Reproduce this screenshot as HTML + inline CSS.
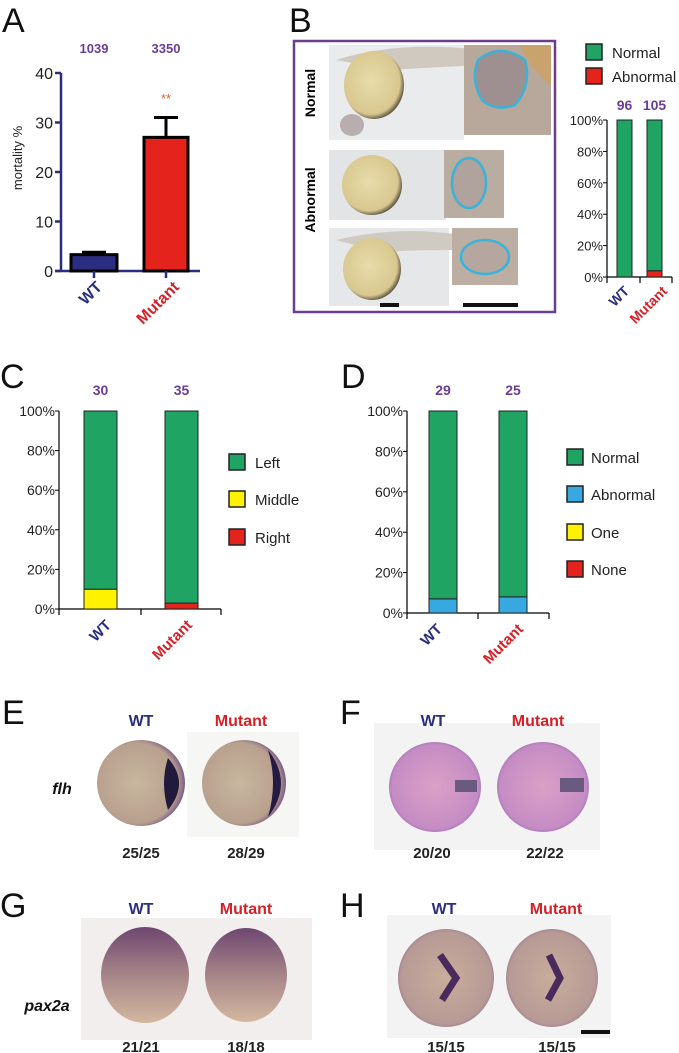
<!DOCTYPE html>
<html><head><meta charset="utf-8"><style>
html,body{margin:0;padding:0;background:#fff;}
svg{display:block;font-family:"Liberation Sans",sans-serif;}
.bold{font-weight:bold}
</style></head><body>
<svg id="fig" width="679" height="1053" viewBox="0 0 679 1053" xmlns="http://www.w3.org/2000/svg">
<defs>
<radialGradient id="yolk" cx="45%" cy="45%" r="60%"><stop offset="0" stop-color="#e8dcaa"/><stop offset="0.8" stop-color="#d8c78f"/><stop offset="1" stop-color="#2a2420"/></radialGradient>
<radialGradient id="eE" cx="45%" cy="50%" r="55%"><stop offset="0" stop-color="#c8b79e"/><stop offset="0.85" stop-color="#b8a08e"/><stop offset="1" stop-color="#7c5a86"/></radialGradient>
<radialGradient id="eF" cx="50%" cy="50%" r="55%"><stop offset="0" stop-color="#dba0c6"/><stop offset="0.85" stop-color="#c58cc4"/><stop offset="1" stop-color="#8a62b0"/></radialGradient>
<linearGradient id="eG" x1="0" y1="0" x2="0" y2="1"><stop offset="0" stop-color="#6e4670"/><stop offset="0.45" stop-color="#a17f86"/><stop offset="1" stop-color="#d3b8a0"/></linearGradient>
<radialGradient id="eH" cx="50%" cy="50%" r="55%"><stop offset="0" stop-color="#c8ad9c"/><stop offset="0.85" stop-color="#b79a95"/><stop offset="1" stop-color="#8b6e8c"/></radialGradient>
</defs>

<g font-size="34" fill="#111">
<text x="2" y="32">A</text>
<text x="289" y="32">B</text>
<text x="0" y="388">C</text>
<text x="341" y="388">D</text>
<text x="2" y="724">E</text>
<text x="340" y="724">F</text>
<text x="0" y="917">G</text>
<text x="340" y="917">H</text>
</g>

<g>
<rect x="294" y="41" width="261" height="271" fill="#fff" stroke="#6a3d8f" stroke-width="2.5"/>
<rect x="329" y="45" width="135" height="95" fill="#e9ebec"/>
<path d="M336,60 Q400,40 480,50 L482,65 Q420,68 390,70 Z" fill="#cfc9c0"/>
<ellipse cx="374" cy="85" rx="30" ry="34" fill="url(#yolk)"/>
<ellipse cx="352" cy="125" rx="12" ry="11" fill="#b8aeb0"/>
<rect x="464" y="45" width="87" height="90" fill="#b8a89c"/>
<path d="M520,45 L551,45 L551,85 Q530,70 520,45Z" fill="#c9a36e"/>
<path d="M478,60 Q500,42 525,60 Q532,85 515,105 Q495,112 482,100 Q470,80 478,60Z" fill="#9e8f90" stroke="#3ab3d8" stroke-width="2.5"/>
<rect x="329" y="150" width="117" height="70" fill="#e2e4e5"/>
<ellipse cx="372" cy="185" rx="30" ry="30" fill="url(#yolk)"/>
<rect x="444" y="150" width="60" height="68" fill="#b9aca0"/>
<ellipse cx="469" cy="183" rx="17" ry="25" fill="#b0a29c" stroke="#3ab3d8" stroke-width="2.5"/>
<rect x="329" y="228" width="120" height="78" fill="#e6e7e8"/>
<path d="M336,240 Q400,225 460,235 L460,250 Q410,250 380,252 Z" fill="#d0cbc2"/>
<ellipse cx="372" cy="269" rx="29" ry="31" fill="url(#yolk)"/>
<rect x="452" y="228" width="66" height="57" fill="#bcaea2"/>
<ellipse cx="485" cy="257" rx="24" ry="17" fill="#b5a69f" stroke="#3ab3d8" stroke-width="2.5"/>
<rect x="380" y="303" width="19" height="4" fill="#111"/>
<rect x="463" y="303" width="55" height="4" fill="#111"/>
<text transform="translate(315,93) rotate(-90)" text-anchor="middle" font-size="14" class="bold">Normal</text>
<text transform="translate(315,200) rotate(-90)" text-anchor="middle" font-size="14" class="bold">Abnormal</text>
</g>

<g>
<rect x="187" y="732" width="112" height="105" fill="#f6f6f4"/>
<ellipse cx="141" cy="783" rx="44" ry="43" fill="url(#eE)"/>
<path d="M168,758 Q190,783 168,810 Q160,783 168,758Z" fill="#221a3a"/>
<ellipse cx="244" cy="783" rx="42" ry="43" fill="url(#eE)"/>
<path d="M268,750 Q294,783 268,817 Q278,783 268,750Z" fill="#241a44"/>
<rect x="374" y="723" width="226" height="127" fill="#f3f3f3"/>
<ellipse cx="435" cy="787" rx="46" ry="45" fill="url(#eF)"/>
<rect x="455" y="780" width="22" height="12" fill="#6a5a80"/>
<ellipse cx="543" cy="787" rx="46" ry="45" fill="url(#eF)"/>
<rect x="560" y="778" width="24" height="14" fill="#6a5a80"/>
<rect x="81" y="918" width="231" height="122" fill="#f3eeee"/>
<ellipse cx="145" cy="975" rx="44" ry="48" fill="url(#eG)"/>
<ellipse cx="246" cy="975" rx="41" ry="47" fill="url(#eG)"/>
<rect x="387" y="915" width="224" height="123" fill="#f4f3f3"/>
<ellipse cx="446" cy="978" rx="48" ry="49" fill="url(#eH)"/>
<path d="M440,955 L456,978 L442,1000" fill="none" stroke="#4a2a5a" stroke-width="7"/>
<ellipse cx="552" cy="978" rx="46" ry="49" fill="url(#eH)"/>
<path d="M549,955 L560,978 L548,1000" fill="none" stroke="#4a2a5a" stroke-width="7"/>
<rect x="581" y="1030" width="29" height="4" fill="#111"/>
</g>
<g font-size="16" class="bold" text-anchor="middle">
<text x="141" y="726" fill="#2b2e80">WT</text>
<text x="241" y="726" fill="#d71f26">Mutant</text>
<text x="433" y="726" fill="#2b2e80">WT</text>
<text x="538" y="726" fill="#d71f26">Mutant</text>
<text x="141" y="914" fill="#2b2e80">WT</text>
<text x="246" y="914" fill="#d71f26">Mutant</text>
<text x="444" y="914" fill="#2b2e80">WT</text>
<text x="556" y="914" fill="#d71f26">Mutant</text>
<g fill="#222" font-size="15">
<text x="141" y="858">25/25</text>
<text x="246" y="858">28/29</text>
<text x="432" y="858">20/20</text>
<text x="545" y="858">22/22</text>
<text x="141" y="1052">21/21</text>
<text x="246" y="1052">18/18</text>
<text x="446" y="1052">15/15</text>
<text x="557" y="1052">15/15</text>
</g>
<text x="62" y="794" font-style="italic" fill="#111">flh</text>
<text x="47" y="1011" font-style="italic" fill="#111">pax2a</text>
</g>
</svg>
<script>
// ---- data ----
const groups = ["WT", "Mutant"];
const aCounts = ["1039", "3350"];
const aMortality = [3.3, 27];
const aError = [0.5, 4];
const aTicks = [0, 10, 20, 30, 40];
const bCounts = ["96", "105"];
const bNormal = [100, 96];
const bAbnormal = [0, 4];
const cCounts = ["30", "35"];
const cLeft = [90, 97];
const cMiddle = [10, 0];
const cRight = [0, 3];
const dCounts = ["29", "25"];
const dNormal = [93, 92];
const dAbnormal = [7, 8];
const dOne = [0, 0];
const dNone = [0, 0];
const pctTicks = [0, 20, 40, 60, 80, 100];

const NS = "http://www.w3.org/2000/svg";
const svg = document.getElementById("fig");
const GREEN = "#1fa463", RED = "#e3231c", YEL = "#fff200", BLUE = "#38a9e0", NAVY = "#2b2e80", PURP = "#6a3d9a";
function mk(tag, attrs, parent, txt) {
  const e = document.createElementNS(NS, tag);
  for (const k in attrs) e.setAttribute(k, attrs[k]);
  if (txt !== undefined) e.textContent = txt;
  (parent || svg).appendChild(e);
  return e;
}
function rotLabels(xs, y, size, g) {
  groups.forEach((n, i) => {
    const t = mk("text", {transform: `translate(${xs[i]},${y}) rotate(-45)`, "text-anchor": "end", "font-size": size, "font-weight": "bold", fill: i ? "#d71f26" : NAVY}, g, n);
    
    
  });
}

(function () {
  const g = mk("g", {});
  
  
  const y = v => 271 - v * (198 / 40);
  const xs = [94, 166], bw = [46, 44];
  mk("line", {x1: 61, y1: 73, x2: 61, y2: 271, stroke: NAVY, "stroke-width": 2.5}, g);
  mk("line", {x1: 55, y1: 271, x2: 200, y2: 271, stroke: NAVY, "stroke-width": 2.5}, g);
  aTicks.forEach(t => {
    mk("line", {x1: 55, y1: y(t), x2: 61, y2: y(t), stroke: NAVY, "stroke-width": 2.5}, g);
    const l = mk("text", {x: 53, y: y(t) + 6, "text-anchor": "end", "font-size": 16, fill: "#222"}, g, t);
    
    
  });
  const yt = mk("text", {transform: "translate(22,158) rotate(-90)", "text-anchor": "middle", "font-size": 13, fill: "#222"}, g, "mortality %");
  
  
  groups.forEach((n, i) => {
    const x = xs[i], top = y(aMortality[i]), et = y(aMortality[i] + aError[i]);
    mk("line", {x1: x, y1: top, x2: x, y2: et, stroke: "#000", "stroke-width": 3}, g);
    mk("line", {x1: x - 12, y1: et, x2: x + 12, y2: et, stroke: "#000", "stroke-width": 3}, g);
    const b = mk("rect", {x: x - bw[i] / 2, y: top, width: bw[i], height: 271 - top, fill: i ? RED : NAVY, stroke: "#000", "stroke-width": 3}, g);
    
    
    mk("line", {x1: x, y1: 271, x2: x, y2: 278, stroke: NAVY, "stroke-width": 2.5}, g);
    const c = mk("text", {x: x, y: 53, "text-anchor": "middle", "font-size": 13, "font-weight": "bold", fill: PURP}, g, aCounts[i]);
    
    
  });
  const s = mk("text", {x: 166, y: 103, "text-anchor": "middle", "font-size": 13, fill: "#e8602c"}, g, "**");
  
  
  rotLabels([103, 180], 288, 16, g);
})();

function stacked(cfg) {
  const g = mk("g", {});
  
  
  const y = v => cfg.y0 - v * (cfg.y0 - cfg.y100) / 100;
  mk("line", {x1: cfg.ax, y1: cfg.y100, x2: cfg.ax, y2: cfg.y0 + 6, stroke: "#000", "stroke-width": 1.2}, g);
  mk("line", {x1: cfg.ax, y1: cfg.y0, x2: cfg.xend, y2: cfg.y0, stroke: "#000", "stroke-width": 1.2}, g);
  cfg.xticks.forEach(t => mk("line", {x1: t, y1: cfg.y0, x2: t, y2: cfg.y0 + 6, stroke: "#000", "stroke-width": 1.2}, g));
  pctTicks.forEach(t => {
    mk("line", {x1: cfg.ax - 4, y1: y(t), x2: cfg.ax, y2: y(t), stroke: "#000", "stroke-width": 1}, g);
    const l = mk("text", {x: cfg.ax - 4, y: y(t) + 5, "text-anchor": "end", "font-size": cfg.fs, fill: "#222"}, g, t + "%");
    
    
  });
  groups.forEach((n, i) => {
    let acc = 0;
    cfg.series.forEach(s => {
      const v = s.vals[i];
      if (v > 0) {
        const r = mk("rect", {x: cfg.bx[i], y: y(acc + v), width: cfg.bw, height: y(acc) - y(acc + v), fill: s.color, stroke: "#222", "stroke-width": 1}, g);
        
        
      }
      acc += v;
    });
    const c = mk("text", {x: cfg.bx[i] + cfg.bw / 2, y: cfg.cy, "text-anchor": "middle", "font-size": 14, "font-weight": "bold", fill: PURP}, g, cfg.counts[i]);
    
    
  });
  cfg.legend.forEach((L, k) => {
    mk("rect", {x: L.x, y: L.y - 8, width: 16, height: 16, fill: L.color, stroke: "#222", "stroke-width": 1.5}, g);
    const t = mk("text", {x: L.x + cfg.lgap, y: L.y + 6, "font-size": cfg.lfs, fill: "#222"}, g, L.label);
    
    
  });
  rotLabels(cfg.lx, cfg.ly, cfg.xfs, g);
}

stacked({name: "panel-b-chart", ax: 607, y0: 277, y100: 120, xend: 672, xticks: [640, 672], bx: [617, 647], bw: 15, fs: 13, cy: 110, counts: bCounts,
  series: [{key: "abnormal", vals: bAbnormal, color: RED}, {key: "normal", vals: bNormal, color: GREEN}],
  legend: [{x: 586, y: 52, color: GREEN, label: "Normal"}, {x: 586, y: 76, color: RED, label: "Abnormal"}], lgap: 26, lfs: 15,
  lx: [630, 668], ly: 292, xfs: 14});

stacked({name: "panel-c-chart", ax: 59, y0: 609, y100: 411, xend: 221, xticks: [141, 221], bx: [84, 165], bw: 33, fs: 14, cy: 395, counts: cCounts,
  series: [{key: "right", vals: cRight, color: RED}, {key: "middle", vals: cMiddle, color: YEL}, {key: "left", vals: cLeft, color: GREEN}],
  legend: [{x: 229, y: 462, color: GREEN, label: "Left"}, {x: 229, y: 499, color: YEL, label: "Middle"}, {x: 229, y: 537, color: RED, label: "Right"}], lgap: 26, lfs: 15,
  lx: [112, 193], ly: 626, xfs: 15});

stacked({name: "panel-d-chart", ax: 407, y0: 613, y100: 411, xend: 549, xticks: [478, 549], bx: [429, 499], bw: 28, fs: 14, cy: 395, counts: dCounts,
  series: [{key: "none", vals: dNone, color: RED}, {key: "one", vals: dOne, color: YEL}, {key: "abnormal", vals: dAbnormal, color: BLUE}, {key: "normal", vals: dNormal, color: GREEN}],
  legend: [{x: 567, y: 457, color: GREEN, label: "Normal"}, {x: 567, y: 494, color: BLUE, label: "Abnormal"}, {x: 567, y: 532, color: YEL, label: "One"}, {x: 567, y: 569, color: RED, label: "None"}], lgap: 24, lfs: 15,
  lx: [443, 524], ly: 630, xfs: 15});
</script>
</body></html>
